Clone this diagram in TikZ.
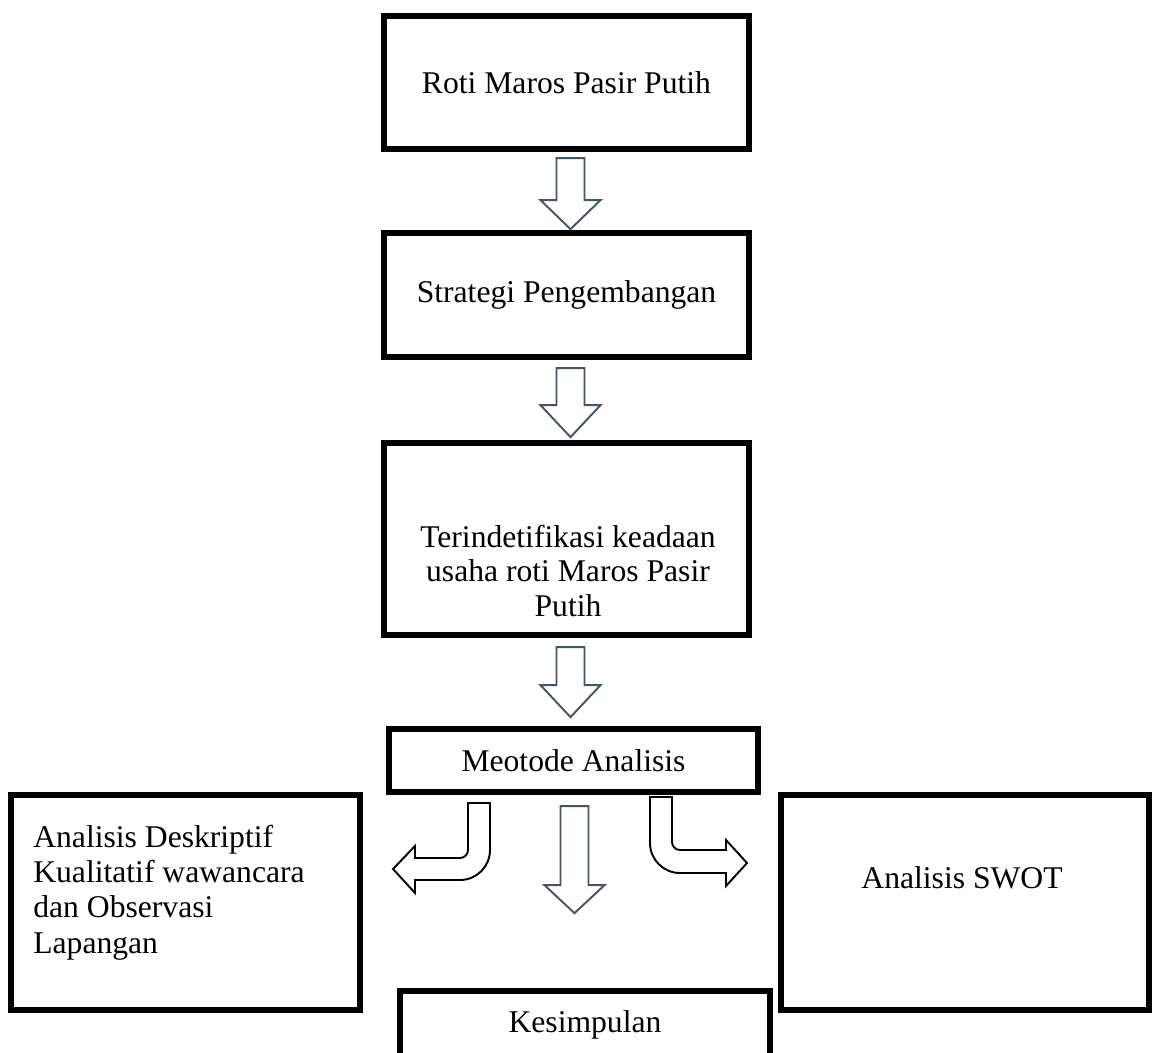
\documentclass[tikz,border=0pt]{standalone}
\usepackage{fontspec}
\setmainfont{Liberation Serif}
\usetikzlibrary{calc}

\definecolor{arrowgrey}{HTML}{44546A}

% hollow block arrow pointing down: start (shaft top centre), shaft length, head length
\newcommand{\blockdown}[3]{%
\draw[downarr] #1 ++(-14,0) -- ++(28,0) -- ++(0,#2) -- ++(16,0) -- ++(-30,#3) -- ++(-30,-#3) -- ++(16,0) -- cycle;}

\begin{document}
\begin{tikzpicture}[x=0.02cm,y=-0.02cm,
  box/.style={draw=black,line width=3.6pt,inner sep=0pt,fill=white},
  txt/.style={font=\fontsize{18}{19.5}\selectfont,text=black},
  downarr/.style={draw=arrowgrey,line width=1.1pt,fill=white},
  bentarr/.style={draw=black,line width=1.1pt,fill=white}]
\useasboundingbox (0,0) rectangle (1152,1053);

\node[box,txt,minimum width=7.3cm,minimum height=2.66cm] (roti) at (566.5,82.5) {Roti Maros Pasir Putih};
\node[box,txt,minimum width=7.3cm,minimum height=2.48cm] (strategi) at (566.5,295) {Strategi Pengembangan};
\node[box,minimum width=7.3cm,minimum height=3.84cm] (keadaan) at (566.5,539) {};
\node[txt,align=center,inner sep=0pt] (keadaantxt) at (568,571) {Terindetifikasi keadaan\\usaha roti Maros Pasir\\Putih};
\node[box,txt,minimum width=7.38cm,minimum height=1.26cm] (metode) at (573.5,760.5) {Meotode Analisis};

\node[box,minimum width=6.98cm,minimum height=4.3cm] (deskriptif) at (185.5,902.5) {};
\node[txt,font=\fontsize{18}{20}\selectfont,align=left,inner sep=0pt,anchor=north west] (deskriptiftxt) at (33,825)
  {Analisis Deskriptif\\Kualitatif wawancara\\dan Observasi\\Lapangan};
\node[box,minimum width=7.36cm,minimum height=4.3cm] (swot) at (965,902.5) {};
\node[txt] (swottxt) at (962,878) {Analisis SWOT};
\node[box,txt,minimum width=7.4cm,minimum height=1.36cm] (kesimpulan) at (585,1025) {Kesimpulan};

% down arrows
\blockdown{($(roti.south)+(4,6)$)}{42}{29}
\blockdown{($(strategi.south)+(4,8)$)}{37}{32}
\blockdown{($(keadaan.south)+(4,9)$)}{38}{32}
\blockdown{($(metode.south)+(1,11)$)}{79}{28}

% bent arrows
\draw[bentarr] (468,803) -- (490,803) -- (490,850) .. controls (490,866.6) and (476.6,880) .. (460,880)
  -- (415,880) -- (415,893) -- (393,869) -- (415,846) -- (415,858) -- (460,858)
  .. controls (464.4,858) and (468,854.4) .. (468,850) -- cycle;
\draw[bentarr] (650,797) -- (672,797) -- (672,842) .. controls (672,846.4) and (675.6,850) .. (680,850)
  -- (726,850) -- (726,840) -- (747,863) -- (726,886) -- (726,873) -- (680,873)
  .. controls (663.4,873) and (650,859.6) .. (650,843) -- cycle;

\end{tikzpicture}
\end{document}
